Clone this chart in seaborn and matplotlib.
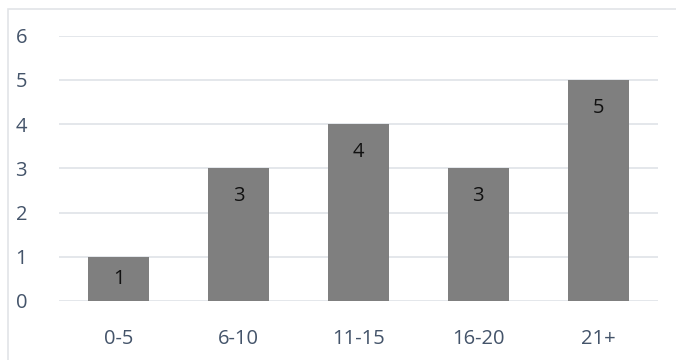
import matplotlib
matplotlib.use("Agg")
import matplotlib.pyplot as plt
import matplotlib.patches as mpatches
import seaborn as sns
import pandas as pd

categories = ["0-5", "6-10", "11-15", "16-20", "21+"]
counts = [1, 3, 4, 3, 5]
y_ticks = [0, 1, 2, 3, 4, 5, 6]

sns.set_theme(style="white")
plt.rcParams["font.family"] = ["Open Sans", "DejaVu Sans"]

W, H = 676, 360
fig = plt.figure(figsize=(W / 100, H / 100), dpi=100)
ax = fig.add_axes([59 / W, (H - 301) / H, (658 - 59) / W, (301 - 35.5) / H])

df = pd.DataFrame({"range": categories, "count": counts})
sns.barplot(data=df, x="range", y="count", color="#7f7f7f", saturation=1,
            width=0.51, ax=ax, zorder=3, edgecolor="none", linewidth=0)

ax.set_ylim(0, 6)
ax.set_xlim(-0.5, len(categories) - 0.5)
ax.set_yticks(y_ticks)
ax.yaxis.grid(True, color="#dfe3e8", linewidth=1.2, zorder=0)
ax.set_axisbelow(True)
for s in ax.spines.values():
    s.set_visible(False)
ax.set_xlabel("")
ax.set_ylabel("")
ax.tick_params(axis="both", length=0, labelsize=14.5, labelcolor="#44546a")
ax.tick_params(axis="y", pad=23)
ax.tick_params(axis="x", pad=20)

# value labels inside the top of each bar
for i, v in enumerate(counts):
    y = max(v - 0.63, v / 2)
    ax.text(i, y, str(v), ha="center", va="center", fontsize=14.5, color="#111111")

# light outer frame
fig.patches.append(mpatches.Rectangle((8 / W, -0.2), 1.2, (H - 9) / H + 0.2,
                                      transform=fig.transFigure, fill=False,
                                      edgecolor="#e1e4e8", linewidth=1.2))

fig.savefig("out.png", dpi=100)
